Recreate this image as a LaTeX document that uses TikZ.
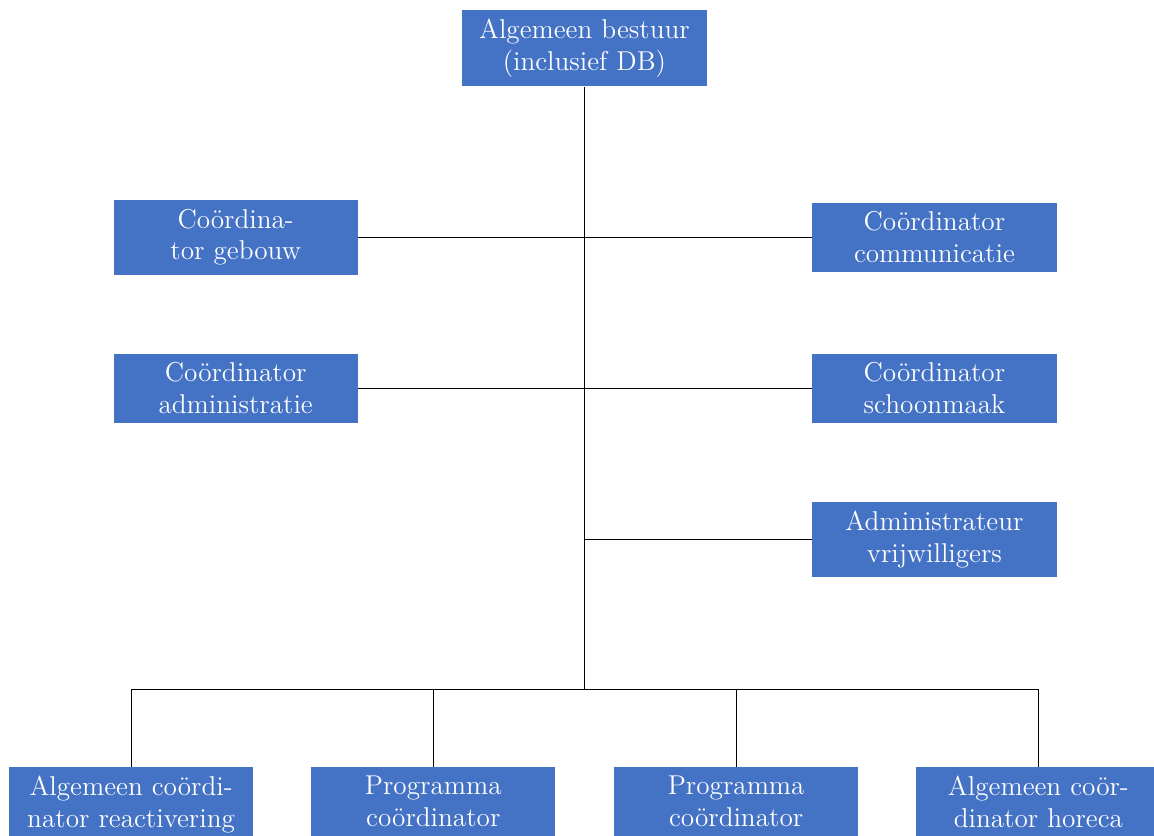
\documentclass[tikz,border=0pt]{standalone}
\usepackage{xcolor}
\definecolor{functieblauw}{HTML}{4472C4}

\tikzset{
    functie/.style={fill=functieblauw, text=white, font=\large, align=center,
        text width=3.5cm, inner sep=4pt},
    lijn/.style={draw=black, line width=0.4pt}
}

\begin{document}
\begin{tikzpicture}
    \useasboundingbox (-9.05,0.743) rectangle (8.82,-12.20);

    % bestuur
    \node[functie] (bestuur) at (0,0) {Algemeen bestuur\\(inclusief DB)};

    % coordinatoren
    \node[functie] (gebouw) at (-5.40,-2.93) {Coördina-\\tor gebouw};
    \node[functie] (communicatie) at (5.42,-2.93) {Coördinator\\communicatie};
    \node[functie] (administratie) at (-5.40,-5.27) {Coördinator\\administratie};
    \node[functie] (schoonmaak) at (5.42,-5.27) {Coördinator\\schoonmaak};
    \node[functie] (vrijwilligers) at (5.42,-7.61) {Administrateur\\vrijwilligers};

    % onderste rij
    \coordinate (bus) at (0,-9.94);
    \node[functie, anchor=north] (reactivering) at (-7.02,-11.13) {Algemeen coördi-\\nator reactivering};
    \node[functie, anchor=north] (programmaA) at (-2.34,-11.13) {Programma\\coördinator};
    \node[functie, anchor=north] (programmaB) at (2.35,-11.13) {Programma\\coördinator};
    \node[functie, anchor=north] (horeca) at (7.03,-11.13) {Algemeen coör-\\dinator horeca};

    % verbindingen
    \draw[lijn] (bestuur.south) -- (bus);
    \draw[lijn] (gebouw.east) -- (communicatie.west);
    \draw[lijn] (administratie.east) -- (schoonmaak.west);
    \draw[lijn] (bestuur.south |- vrijwilligers.west) -- (vrijwilligers.west);
    \draw[lijn] (reactivering.north) |- (bus) -| (horeca.north);
    \draw[lijn] (programmaA.north) -- (programmaA.north |- bus);
    \draw[lijn] (programmaB.north) -- (programmaB.north |- bus);
\end{tikzpicture}
\end{document}
